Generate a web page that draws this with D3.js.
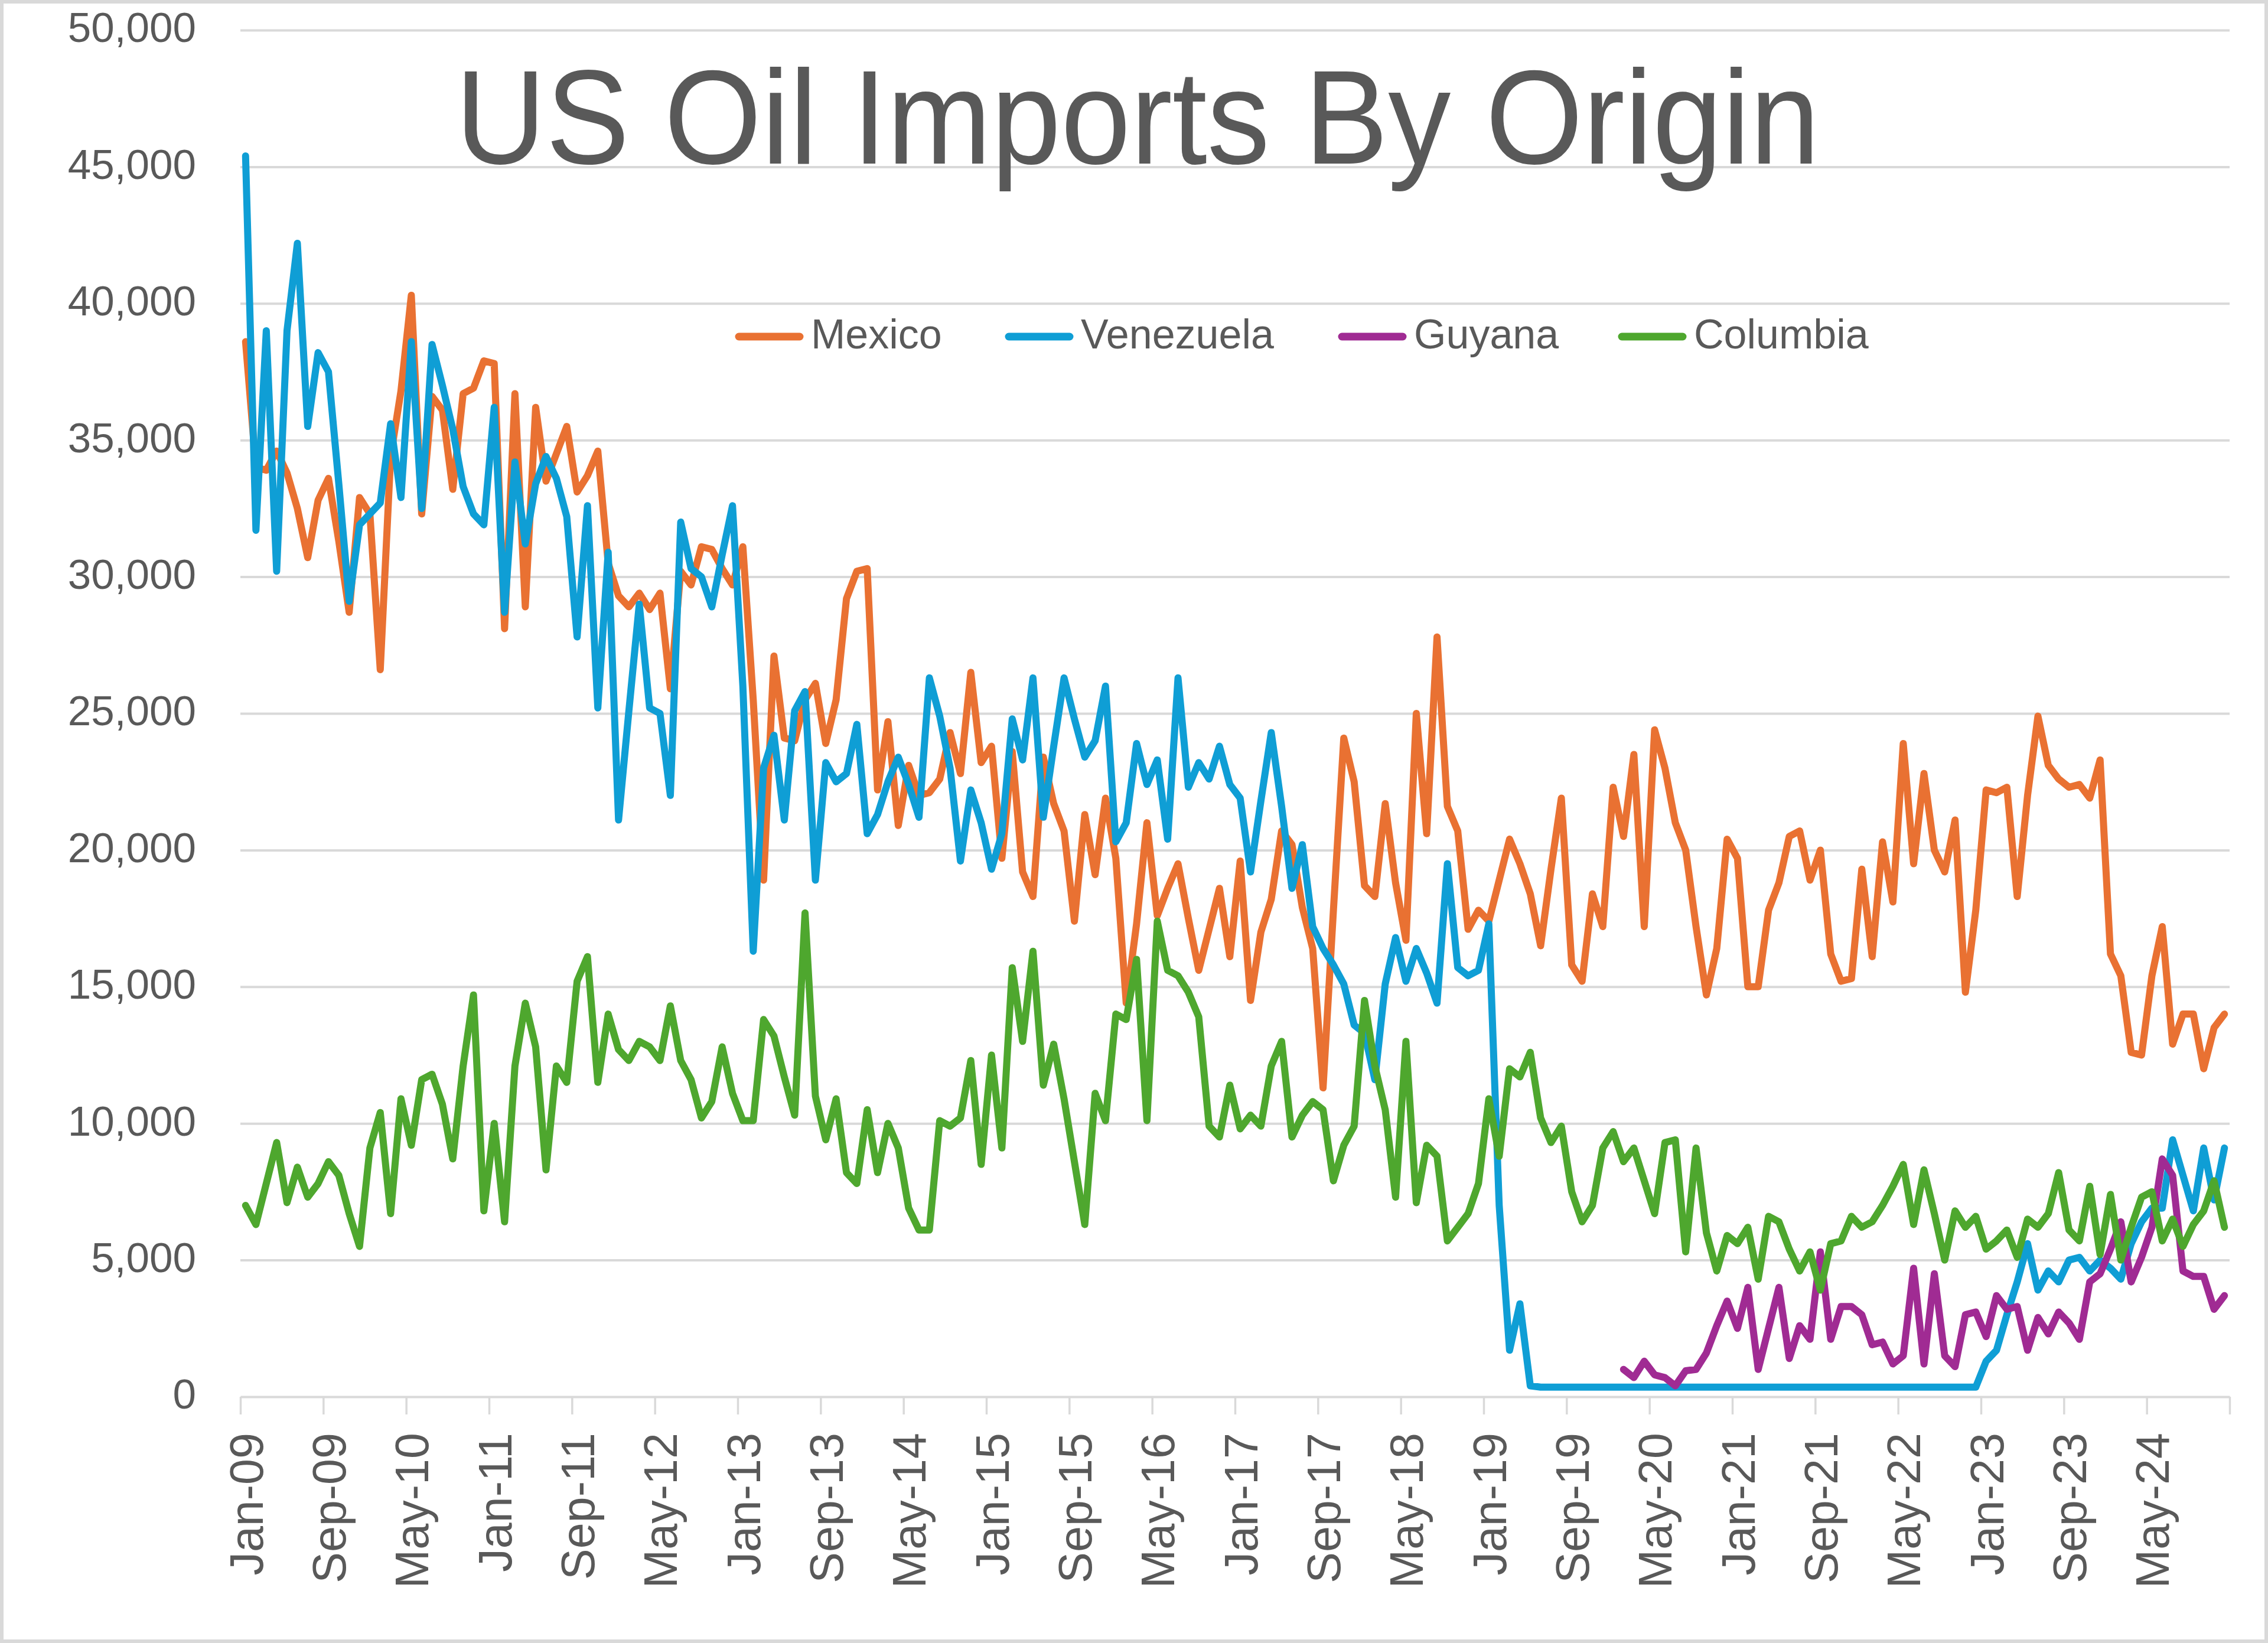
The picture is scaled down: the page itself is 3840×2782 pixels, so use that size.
<!DOCTYPE html>
<html>
<head>
<meta charset="utf-8">
<script src="https://cdn.jsdelivr.net/npm/d3@7"></script>
<style>
html, body { margin: 0; padding: 0; background: #ffffff; }
svg { display: block; }
</style>
</head>
<body>
<svg id="chart" width="3840" height="2782"></svg>
<script>
// ---------------- DATA ----------------
const chartTitle = "US Oil Imports By Origin";
const seriesNames = ["Mexico", "Venezuela", "Guyana", "Columbia"];
const seriesColors = ["#E97132", "#0F9ED5", "#A02B93", "#4EA72E"];
const firstMonth = "Jan-09";
const guyanaFirstMonth = "Feb-20";

const tickLabels = ["Jan-09","Sep-09","May-10","Jan-11","Sep-11","May-12","Jan-13","Sep-13",
  "May-14","Jan-15","Sep-15","May-16","Jan-17","Sep-17","May-18","Jan-19","Sep-19",
  "May-20","Jan-21","Sep-21","May-22","Jan-23","Sep-23","May-24"];
const yTicks = [0, 5000, 10000, 15000, 20000, 25000, 30000, 35000, 40000, 45000, 50000];

// monthly values, Jan-09 .. Dec-24 (one row per year)
const mexico = [
  38600, 34000, 33900, 34600, 33800, 32500, 30700, 32800, 33600, 31300, 28700, 32900,
  32300, 26600, 34400, 36800, 40300, 32300, 36600, 36100, 33200, 36700, 36900, 37900,
  37800, 28100, 36700, 28900, 36200, 33500, 34500, 35500, 33100, 33700, 34600, 30500,
  29300, 28900, 29400, 28800, 29400, 25900, 30200, 29700, 31100, 31000, 30300, 29700,
  31100, 25500, 18900, 27100, 24100, 24000, 25500, 26100, 23900, 25500, 29200, 30200,
  30300, 22200, 24700, 20900, 23100, 22000, 22100, 22600, 24300, 22800, 26500, 23200,
  23800, 19700, 23600, 19200, 18300, 23400, 21700, 20700, 17400, 21300, 19100, 21900,
  19700, 14400, 17300, 21000, 17600, 18600, 19500, 17500, 15600, 17100, 18600, 16100,
  19600, 14500, 17000, 18200, 20700, 20200, 17900, 16400, 11300, 17800, 24100, 22500,
  18700, 18300, 21700, 18800, 16700, 25000, 20600, 27800, 21600, 20700, 17100, 17800,
  17400, 18900, 20400, 19500, 18400, 16500, 19300, 21900, 15800, 15200, 18400, 17200,
  22300, 20500, 23500, 17200, 24400, 23000, 21000, 20000, 17200, 14700, 16400, 20400,
  19700, 15000, 15000, 17800, 18800, 20500, 20700, 18900, 20000, 16200, 15200, 15300,
  19300, 16100, 20300, 18100, 23900, 19500, 22800, 20000, 19200, 21100, 14800, 17800,
  22200, 22100, 22300, 18300, 22000, 24900, 23100, 22600, 22300, 22400, 21900, 23300,
  16200, 15400, 12600, 12500, 15400, 17200, 12900, 14000, 14000, 12000, 13500, 14000
];

const venezuela = [
  45400, 31700, 39000, 30200, 39000, 42200, 35500, 38200, 37500, 33400, 29100, 31900,
  32300, 32700, 35600, 32900, 38600, 32500, 38500, 37000, 35400, 33300, 32300, 31900,
  36200, 28700, 34200, 31200, 33400, 34400, 33600, 32200, 27800, 32600, 25200, 30900,
  21100, 25100, 29000, 25200, 25000, 22000, 32000, 30300, 30000, 28900, 30800, 32600,
  26000, 16300, 23000, 24200, 21100, 25100, 25800, 18900, 23200, 22500, 22800, 24600,
  20600, 21300, 22500, 23400, 22400, 21200, 26300, 24900, 23000, 19600, 22200, 21000,
  19300, 20600, 24800, 23300, 26300, 21200, 23800, 26300, 24800, 23400, 24000, 26000,
  20300, 21000, 23900, 22400, 23300, 20400, 26300, 22300, 23200, 22600, 23800, 22400,
  21900, 19200, 21800, 24300, 21600, 18600, 20200, 17200, 16400, 15800, 15100, 13600,
  13300, 11600, 15100, 16800, 15200, 16400, 15500, 14400, 19500, 15700, 15400, 15600,
  17300, 7000, 1700, 3400, 400, 350, 350, 350, 350, 350, 350, 350,
  350, 350, 350, 350, 350, 350, 350, 350, 350, 350, 350, 350,
  350, 350, 350, 350, 350, 350, 350, 350, 350, 350, 350, 350,
  350, 350, 350, 350, 350, 350, 350, 350, 350, 350, 350, 350,
  1300, 1700, 3000, 4200, 5600, 3900, 4600, 4200, 5000, 5100, 4600, 5000,
  4700, 4300, 5600, 6400, 6900, 6900, 9400, 8100, 6800, 9100, 7200, 9100
];

// Guyana, Feb-20 .. Dec-24
const guyana = [
  1000, 700, 1300, 800, 700, 400, 950, 1000, 1600, 2600, 3500,
  2500, 4000, 1000, 2500, 4000, 1400, 2600, 2100, 5300, 2100, 3300, 3300,
  3000, 1900, 2000, 1200, 1500, 4700, 1200, 4500, 1500, 1100, 3000, 3100,
  2200, 3700, 3200, 3300, 1700, 2900, 2300, 3100, 2700, 2100, 4200, 4500,
  5400, 6400, 4200, 5100, 6200, 8700, 8100, 4600, 4400, 4400, 3200, 3700
];

const columbia = [
  7000, 6300, 7800, 9300, 7100, 8400, 7300, 7800, 8600, 8100, 6700, 5500,
  9100, 10400, 6700, 10900, 9200, 11600, 11800, 10700, 8700, 12100, 14700, 6800,
  10000, 6400, 12100, 14400, 12800, 8300, 12100, 11500, 15200, 16100, 11500, 14000,
  12700, 12300, 13000, 12800, 12300, 14300, 12300, 11600, 10200, 10800, 12800, 11100,
  10100, 10100, 13800, 13200, 11700, 10300, 17700, 11000, 9400, 10900, 8200, 7800,
  10500, 8200, 10000, 9100, 6900, 6100, 6100, 10100, 9900, 10200, 12300, 8500,
  12500, 9100, 15700, 13000, 16300, 11400, 12900, 10900, 8600, 6300, 11100, 10100,
  14000, 13800, 16000, 10100, 17400, 15600, 15400, 14800, 13900, 9900, 9500, 11400,
  9800, 10300, 9900, 12100, 13000, 9500, 10300, 10800, 10500, 7900, 9200, 9900,
  14500, 12100, 10500, 7300, 13000, 7100, 9200, 8800, 5700, 6200, 6700, 7800,
  10900, 8800, 12000, 11700, 12600, 10200, 9300, 9900, 7500, 6400, 7000, 9100,
  9700, 8600, 9100, 7900, 6700, 9300, 9400, 5300, 9100, 6000, 4600, 5900,
  5600, 6200, 4300, 6600, 6400, 5400, 4600, 5300, 3900, 5600, 5700, 6600,
  6200, 6400, 7000, 7700, 8500, 6300, 8300, 6700, 5000, 6800, 6200, 6600,
  5400, 5700, 6100, 5100, 6500, 6200, 6700, 8200, 6100, 5700, 7700, 5200,
  7400, 5000, 6200, 7300, 7500, 5700, 6500, 5500, 6300, 6800, 7900, 6200
];

// ---------------- HELPERS ----------------
const monthAbbr = ["Jan","Feb","Mar","Apr","May","Jun","Jul","Aug","Sep","Oct","Nov","Dec"];
function monthNumber(label) {
  const [m, yy] = label.split("-");
  return (+yy) * 12 + monthAbbr.indexOf(m);
}
function monthOffset(label) { return monthNumber(label) - monthNumber(firstMonth); }

const nMonths = mexico.length;
const series = [
  { name: seriesNames[0], color: seriesColors[0], start: 0, values: mexico },
  { name: seriesNames[1], color: seriesColors[1], start: 0, values: venezuela },
  { name: seriesNames[2], color: seriesColors[2], start: monthOffset(guyanaFirstMonth), values: guyana },
  { name: seriesNames[3], color: seriesColors[3], start: 0, values: columbia }
];

// ---------------- LAYOUT ----------------
const W = 3840, H = 2782;
const plot = { left: 407, right: 3775, top: 51, bottom: 2365 };
const textColor = "#595959";
const gridColor = "#d9d9d9";
const font = "'Liberation Sans', Arial, sans-serif";
const legendX = [1251, 1708, 2272, 2746];   // legend item left edges
const legendY = 570;

const svg = d3.select("#chart");
svg.append("rect").attr("x", 0).attr("y", 0).attr("width", W).attr("height", H).attr("fill", "#ffffff");
svg.append("rect").attr("x", 3).attr("y", 3).attr("width", W - 6).attr("height", H - 6)
  .attr("fill", "none").attr("stroke", gridColor).attr("stroke-width", 6);

const x = d3.scaleLinear().domain([0, nMonths]).range([plot.left, plot.right]);
const y = d3.scaleLinear().domain([0, 50000]).range([plot.bottom, plot.top]);

// gridlines
const grid = svg.append("g").attr("transform", `translate(${plot.left},0)`)
  .call(d3.axisLeft(y).tickValues(yTicks.filter(d => d > 0)).tickSize(-(plot.right - plot.left)).tickFormat(""));
grid.select(".domain").remove();
grid.selectAll(".tick line").attr("stroke", gridColor).attr("stroke-width", 4);

// y axis labels
const yAxis = svg.append("g").attr("transform", `translate(${plot.left},0)`)
  .call(d3.axisLeft(y).tickValues(yTicks).tickFormat(d3.format(",")).tickSize(0).tickPadding(75));
yAxis.select(".domain").remove();
yAxis.selectAll(".tick text")
  .attr("fill", textColor).attr("font-family", font).attr("font-size", 71).attr("dy", "0.28em");

// x axis ticks (month boundaries every 8 months) + axis line
const tickIdx = d3.range(0, nMonths + 1, 8);
const xAxis = svg.append("g").attr("transform", `translate(0,${plot.bottom})`)
  .call(d3.axisBottom(x).tickValues(tickIdx).tickSize(30).tickSizeOuter(0).tickFormat(""));
xAxis.select(".domain").attr("stroke", gridColor).attr("stroke-width", 4);
xAxis.selectAll(".tick line").attr("stroke", gridColor).attr("stroke-width", 3.5);

// x axis labels (centered on their month)
const labelAxis = svg.append("g").attr("transform", `translate(0,${plot.bottom})`)
  .call(d3.axisBottom(x).tickValues(tickLabels.map(l => monthOffset(l) + 0.5))
    .tickSize(0).tickFormat((d, i) => tickLabels[i]));
labelAxis.select(".domain").remove();
labelAxis.selectAll(".tick text")
  .attr("transform", "rotate(-90)")
  .attr("x", -61).attr("y", 0).attr("dy", "0.36em")
  .attr("text-anchor", "end")
  .attr("fill", textColor).attr("font-family", font).attr("font-size", 79);

// series lines
const lineGen = d3.line()
  .x(d => x(d.i + 0.5))
  .y(d => y(d.v));
series.forEach(s => {
  const pts = s.values.map((v, k) => ({ i: s.start + k, v: v }));
  svg.append("path")
    .datum(pts)
    .attr("d", lineGen)
    .attr("fill", "none")
    .attr("stroke", s.color)
    .attr("stroke-width", 12)
    .attr("stroke-linejoin", "round")
    .attr("stroke-linecap", "round");
});

// title
svg.append("text")
  .attr("x", 1926).attr("y", 277)
  .attr("text-anchor", "middle")
  .attr("fill", textColor)
  .attr("font-family", font)
  .attr("font-size", 226)
  .attr("textLength", 2310)
  .attr("lengthAdjust", "spacingAndGlyphs")
  .text(chartTitle);

// legend
const legend = svg.append("g");
series.forEach((s, k) => {
  const lx = legendX[k];
  legend.append("line")
    .attr("x1", lx).attr("x2", lx + 103).attr("y1", legendY).attr("y2", legendY)
    .attr("stroke", s.color).attr("stroke-width", 13).attr("stroke-linecap", "round");
  legend.append("text")
    .attr("x", lx + 122).attr("y", legendY + 20)
    .attr("fill", textColor).attr("font-family", font).attr("font-size", 70)
    .text(s.name);
});
</script>
</body>
</html>
